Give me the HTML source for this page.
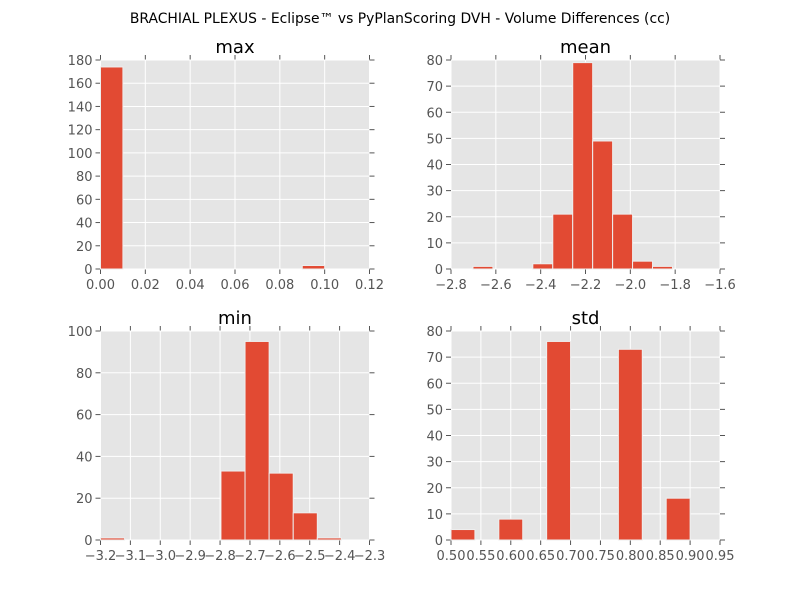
<!DOCTYPE html>
<html><head><meta charset="utf-8"><style>
body{margin:0;background:#fff;font-family:"Liberation Sans","DejaVu Sans",sans-serif}
svg text{font-family:"DejaVu Sans","Liberation Sans",sans-serif}
</style></head><body>
<svg id="fig" width="800" height="600" xmlns="http://www.w3.org/2000/svg">
<rect width="800" height="600" fill="#fff"/>
<text x="400" y="23" text-anchor="middle" font-size="13.9" fill="#000">BRACHIAL PLEXUS - Eclipse™ vs PyPlanScoring DVH - Volume Differences (cc)</text>
</svg>
<script>
// max
const maxEdges=[0,0.01,0.02,0.03,0.04,0.05,0.06,0.07,0.08,0.09,0.10];
const maxCounts=[174,0,0,0,0,0,0,0,0,3];
const maxXTicks=["0.00","0.02","0.04","0.06","0.08","0.10","0.12"];
const maxYTicks=[0,20,40,60,80,100,120,140,160,180];
// mean
const meanEdges=[-2.702,-2.613,-2.524,-2.435,-2.346,-2.257,-2.168,-2.079,-1.990,-1.901,-1.812];
const meanCounts=[1,0,0,2,21,79,49,21,3,1];
const meanXTicks=["−2.8","−2.6","−2.4","−2.2","−2.0","−1.8","−1.6"];
const meanYTicks=[0,10,20,30,40,50,60,70,80];
// min
const minEdges=[-3.2,-3.1194,-3.0388,-2.9582,-2.8776,-2.797,-2.7164,-2.6358,-2.5552,-2.4746,-2.394];
const minCounts=[1,0,0,0,0,33,95,32,13,1];
const minXTicks=["−3.2","−3.1","−3.0","−2.9","−2.8","−2.7","−2.6","−2.5","−2.4","−2.3"];
const minYTicks=[0,20,40,60,80,100];
// std
const stdEdges=[0.5,0.54,0.58,0.62,0.66,0.70,0.74,0.78,0.82,0.86,0.90];
const stdCounts=[4,0,8,0,76,0,0,73,0,16];
const stdXTicks=["0.50","0.55","0.60","0.65","0.70","0.75","0.80","0.85","0.90","0.95"];
const stdYTicks=[0,10,20,30,40,50,60,70,80];

const NS="http://www.w3.org/2000/svg";
const svg=document.getElementById('fig');
function mk(tag,attrs,parent){const e=document.createElementNS(NS,tag);for(const k in attrs)e.setAttribute(k,attrs[k]);(parent||svg).appendChild(e);return e;}
function num(s){return parseFloat(s.replace('−','-'));}
function panel(name,L,T,W,H,edges,counts,xt,yt){
  const g=mk('g',{});
  
  
  const x0=num(xt[0]),x1=num(xt[xt.length-1]);
  const y1=yt[yt.length-1];
  const X=v=>L+(v-x0)/(x1-x0)*W;
  const Y=v=>T+H-v/y1*H;
  const bg=mk('rect',{x:L,y:T,width:W,height:H,fill:'#e5e5e5'},g);
  
  
  xt.forEach(s=>{const x=X(num(s));
    mk('line',{x1:x,x2:x,y1:T,y2:T+H,stroke:'#fff','stroke-width':1},g);
    mk('line',{x1:x,x2:x,y1:T+H,y2:T+H+5,stroke:'#555'},g);
    mk('line',{x1:x,x2:x,y1:T,y2:T-5,stroke:'#555'},g);
    const t=mk('text',{x:x,y:T+H+20,'text-anchor':'middle','font-size':13,fill:'#555'},g);t.textContent=s;
    
    
  });
  yt.forEach(v=>{const y=Y(v);
    mk('line',{x1:L,x2:L+W,y1:y,y2:y,stroke:'#fff','stroke-width':1},g);
    mk('line',{x1:L-5,x2:L,y1:y,y2:y,stroke:'#555'},g);
    mk('line',{x1:L+W,x2:L+W+5,y1:y,y2:y,stroke:'#555'},g);
    const t=mk('text',{x:L-8,y:y+5,'text-anchor':'end','font-size':13,fill:'#555'},g);t.textContent=v;
    
    
  });
  counts.forEach((c,i)=>{if(c<=0)return;
    const xa=X(edges[i]),xb=X(edges[i+1]);
    const r=mk('rect',{x:xa,y:Y(c),width:xb-xa,height:Y(0)-Y(c),fill:'#e24a33',stroke:'#eeeeee','stroke-width':1},g);
    
    
  });
  const t=mk('text',{x:L+W/2,y:T-7,'text-anchor':'middle','font-size':18,fill:'#000'},g);t.textContent=name;
  
  
}
panel('max',100.5,60,269,209,maxEdges,maxCounts,maxXTicks,maxYTicks);
panel('mean',451,60,269,209,meanEdges,meanCounts,meanXTicks,meanYTicks);
panel('min',100.5,331,269,209,minEdges,minCounts,minXTicks,minYTicks);
panel('std',451,331,269,209,stdEdges,stdCounts,stdXTicks,stdYTicks);
</script>
</body></html>
